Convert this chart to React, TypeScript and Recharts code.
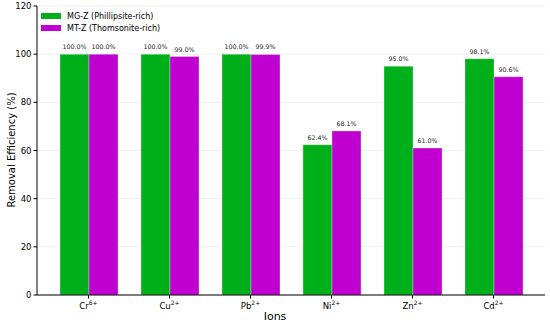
import React from "react";
import {
  BarChart,
  Bar,
  XAxis,
  YAxis,
  CartesianGrid,
  LabelList,
} from "recharts";

const ions = ["Cr", "Cu", "Pb", "Ni", "Zn", "Cd"];
const charges = ["6+", "2+", "2+", "2+", "2+", "2+"];
const mgz = [100.0, 100.0, 100.0, 62.4, 95.0, 98.1];
const mtz = [100.0, 99.0, 99.9, 68.1, 61.0, 90.6];
const yTicks = [0, 20, 40, 60, 80, 100, 120];

const GREEN = "#00b01a";
const MAGENTA = "#c000d0";
const FONT = "DejaVu Sans, sans-serif";

const data = ions.map((ion, i) => ({
  ion,
  charge: charges[i],
  mgz: mgz[i],
  mtz: mtz[i],
}));

function IonTick(props: any) {
  const { x, y, payload, index } = props;
  const charge = charges[index] ?? "";
  return (
    <text x={x} y={y + 8} textAnchor="middle" fontFamily={FONT} fontSize={8.5} fill="#000">
      <tspan>{payload.value}</tspan>
      <tspan dy={-4} fontSize={6}>{charge}</tspan>
    </text>
  );
}

// legend drawn on top of the plot, like matplotlib's upper-left legend
function LegendBox() {
  const items = [
    { label: "MG-Z (Phillipsite-rich)", color: GREEN },
    { label: "MT-Z (Thomsonite-rich)", color: MAGENTA },
  ];
  return (
    <svg width={130} height={30} style={{ display: "block" }}>
      {items.map((it, i) => (
        <g key={it.label}>
          <rect x={3} y={5 + i * 12} width={20} height={6} fill={it.color} />
          <text x={29} y={11 + i * 12} fontFamily={FONT} fontSize={8} fill="#000">
            {it.label}
          </text>
        </g>
      ))}
    </svg>
  );
}

export default function App() {
  return (
    <div style={{ position: "absolute", left: 0, top: 0, width: 550, height: 324, background: "#fff" }}>
      <BarChart
        width={550}
        height={324}
        data={data}
        margin={{ top: 6, right: 5, bottom: 0, left: 0 }}
        barGap={0}
      >
        <CartesianGrid vertical={false} stroke="#efefef" />
        <XAxis
          dataKey="ion"
          height={29}
          padding={{ left: 11, right: 11 }}
          stroke="#000"
          tickSize={3.5}
          tick={<IonTick />}
          interval={0}
          label={{
            content: () => (
              <text x={275} y={320} textAnchor="middle" fontFamily={FONT} fontSize={11} fill="#000">
                Ions
              </text>
            ),
          }}
        />
        <XAxis xAxisId="top" dataKey="ion" orientation="top" height={0} tick={false} tickLine={false} stroke="#000" />
        <YAxis
          width={37}
          domain={[0, 120]}
          ticks={yTicks}
          stroke="#000"
          tickSize={3.5}
          tick={{ fontFamily: FONT, fontSize: 8.5, fill: "#000" }}
          label={{
            content: () => (
              <text
                x={12}
                y={150}
                transform="rotate(-90 12 150)"
                textAnchor="middle"
                dominantBaseline="middle"
                fontFamily={FONT}
                fontSize={10}
                fill="#000"
              >
                Removal Efficiency (%)
              </text>
            ),
          }}
        />
        <YAxis yAxisId="right" orientation="right" width={0} domain={[0, 120]} tick={false} tickLine={false} stroke="#000" />
        <Bar dataKey="mgz" name="MG-Z (Phillipsite-rich)" fill={GREEN} barSize={29} isAnimationActive={false} stroke="#ffffff" strokeOpacity={0.5} strokeWidth={0.6}>
          <LabelList
            dataKey="mgz"
            position="top"
            offset={5}
            formatter={(v: any) => `${Number(v).toFixed(1)}%`}
            style={{ fontFamily: FONT, fontSize: 6.3, fill: "#222" }}
          />
        </Bar>
        <Bar dataKey="mtz" name="MT-Z (Thomsonite-rich)" fill={MAGENTA} barSize={29} isAnimationActive={false} stroke="#ffffff" strokeOpacity={0.5} strokeWidth={0.6}>
          <LabelList
            dataKey="mtz"
            position="top"
            offset={5}
            formatter={(v: any) => `${Number(v).toFixed(1)}%`}
            style={{ fontFamily: FONT, fontSize: 6.3, fill: "#222" }}
          />
        </Bar>
      </BarChart>
      <div style={{ position: "absolute", left: 38, top: 8 }}>
        <LegendBox />
      </div>
    </div>
  );
}
